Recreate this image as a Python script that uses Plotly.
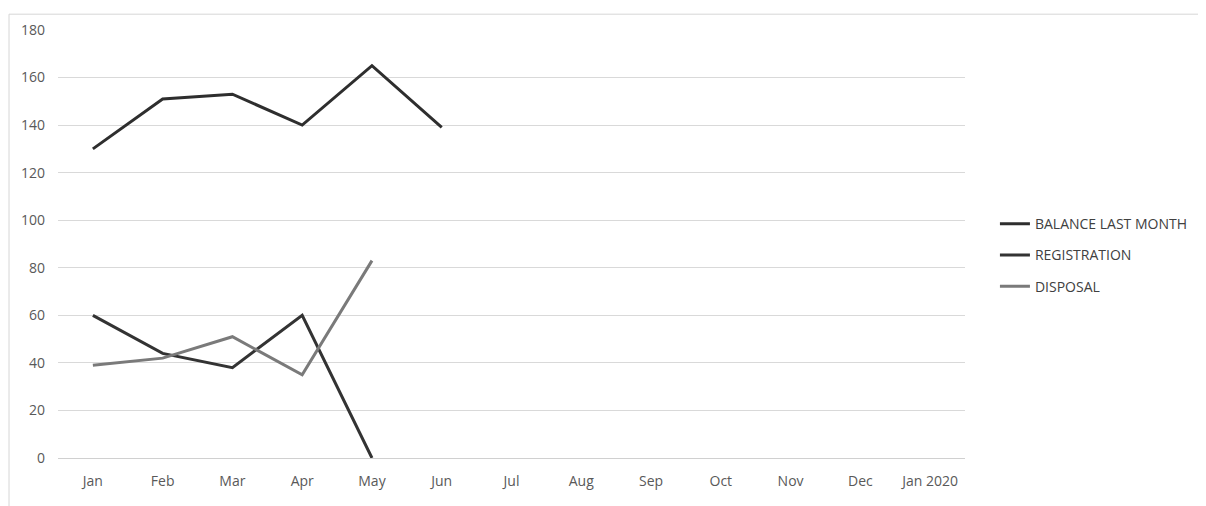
import plotly.graph_objects as go

months = ["Jan", "Feb", "Mar", "Apr", "May", "Jun", "Jul", "Aug", "Sep", "Oct", "Nov", "Dec", "Jan 2020"]
balance_last_month = [130, 151, 153, 140, 165, 139]
registration = [60, 44, 38, 60, 0]
disposal = [39, 42, 51, 35, 83]
y_ticks = [0, 20, 40, 60, 80, 100, 120, 140, 160, 180]

fig = go.Figure()
fig.add_trace(go.Scatter(x=months[:len(balance_last_month)], y=balance_last_month, mode="lines",
                         name="BALANCE LAST MONTH", legendgroup="a",
                         line=dict(color="#2e2e2e", width=3)))
fig.add_trace(go.Scatter(x=months[:len(registration)], y=registration, mode="lines",
                         name="REGISTRATION", legendgroup="b",
                         line=dict(color="#333333", width=3)))
fig.add_trace(go.Scatter(x=months[:len(disposal)], y=disposal, mode="lines",
                         name="DISPOSAL", legendgroup="c",
                         line=dict(color="#7a7a7a", width=3)))

font_fam = "Open Sans, Liberation Sans, sans-serif"
fig.update_layout(
    width=1206, height=506,
    margin=dict(l=50, r=249, t=17, b=56),
    paper_bgcolor="white", plot_bgcolor="white",
    font=dict(family=font_fam, size=14, color="#595959"),
    showlegend=True,
    legend=dict(x=1.033, xanchor="left", y=0.474, yanchor="middle",
                traceorder="grouped", tracegroupgap=10,
                font=dict(size=14, color="#404040"),
                bgcolor="rgba(0,0,0,0)"),
    xaxis=dict(type="category", categoryorder="array", categoryarray=months,
               range=[-0.5, len(months) - 0.5], showgrid=False, showline=False,
               ticks="", ticklabelstandoff=13, tickfont=dict(size=14, color="#595959")),
    yaxis=dict(range=[0, 180], tickvals=y_ticks, showgrid=True, gridcolor="#d9d9d9",
               gridwidth=1, zeroline=True, zerolinecolor="#d0d0d0", zerolinewidth=1,
               showline=False, ticks="", ticklabelstandoff=12,
               tickfont=dict(size=14, color="#595959")),
    shapes=[dict(type="rect", xref="paper", yref="paper",
                 x0=-49 / 907, x1=(1194 - 50) / 907,
                 y0=-(56 - 6) / 433, y1=(433 + 16) / 433,
                 line=dict(color="#d6d6d6", width=1), fillcolor="rgba(0,0,0,0)", layer="below")],
)

fig.write_html("out.html")
